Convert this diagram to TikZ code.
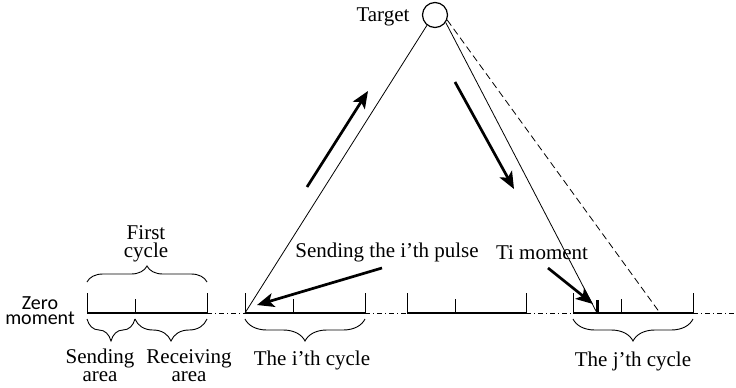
\documentclass[tikz,border=0pt]{standalone}
\usepackage{fontspec}
\setmainfont{Liberation Serif}
\newfontfamily\sanslbl{Carlito}
\usetikzlibrary{arrows.meta,decorations.pathreplacing}
\begin{document}
\begin{tikzpicture}[x=1pt,y=-1pt,
  lbl/.style={font=\fontsize{21}{17.5}\selectfont, inner sep=0pt, align=center},
  slbl/.style={font=\sanslbl\fontsize{20}{15}\selectfont, inner sep=0pt, align=center},
  axisln/.style={line width=1.2pt},
  gapln/.style={line width=0.8pt, dash pattern=on 5pt off 3pt on 1pt off 3pt},
  tickln/.style={line width=1pt},
  ray/.style={line width=0.8pt},
  echoray/.style={line width=0.8pt, dash pattern=on 7pt off 4pt},
  bigarrow/.style={line width=2.7pt, -{Stealth[length=17pt,width=14pt,inset=4pt]}},
  bracetop/.style={line width=0.9pt, decorate, decoration={brace,amplitude=16pt}},
  bracebot/.style={line width=0.9pt, decorate, decoration={brace,mirror,amplitude=22pt}}]
\useasboundingbox (0,0) rectangle (736,388);

% cycle boundaries on the time axis
\coordinate (c1s) at (87,313);  \coordinate (c1m) at (135,313); \coordinate (c1e) at (207,313);
\coordinate (c2s) at (245,313); \coordinate (c2m) at (293,313); \coordinate (c2e) at (365,313);
\coordinate (c3s) at (407,313); \coordinate (c3m) at (455,313); \coordinate (c3e) at (526,313);
\coordinate (c4s) at (573,313); \coordinate (c4m) at (621,313); \coordinate (c4e) at (693,313);
\coordinate (ti) at (597,313);
\coordinate (echo) at (660,313);
\coordinate (axend) at (736,313);

% solid cycles and the dash-dot gaps between them
\draw[axisln] (c1s) -- (c1e);
\draw[axisln] (c2s) -- (c2e);
\draw[axisln] (c3s) -- (c3e);
\draw[axisln] (c4s) -- (c4e);
\draw[gapln] (c1e) -- (c2s);
\draw[gapln] (c2e) -- (c3s);
\draw[gapln] (c3e) -- (c4s);
\draw[gapln] (c4e) -- (axend);

% boundary ticks (tall) and send/receive split ticks (short)
\foreach \p in {c1s,c1e,c2s,c2e,c3s,c3e,c4s,c4e}
  \draw[tickln] (\p) -- ++(0,-20);
\foreach \p in {c1m,c2m,c3m,c4m}
  \draw[tickln] (\p) -- ++(0,-14);
\draw[line width=3pt] (ti) -- ++(0,-13);

% target and the rays
\node[draw, circle, line width=1.2pt, minimum size=25pt, inner sep=0pt] (tg) at (435,15) {};
\node[lbl, anchor=base] (tglbl) at (383,21) {Target};
\draw[ray] (tg.-128) -- (c2s);
\draw[ray] (tg.-35) -- (ti);
\draw[echoray] (tg.-22) -- (echo);

% travel direction arrows
\coordinate (upA) at (307,187); \coordinate (upB) at (368,91);
\coordinate (dnA) at (455,82);  \coordinate (dnB) at (514,189);
\draw[bigarrow] (upA) -- (upB);
\draw[bigarrow] (dnA) -- (dnB);

% labelled pointers
\node[lbl, anchor=base] (pulse) at (387,257) {Sending the i’th pulse};
\node[lbl, anchor=base] (timom) at (542,259) {Ti moment};
\coordinate (pA) at (382,268); \coordinate (pB) at (257,305);
\coordinate (tA) at (548,268); \coordinate (tB) at (593,304);
\draw[bigarrow] (pA) -- (pB);
\draw[bigarrow] (tA) -- (tB);

% braces and their labels (multi-line labels are placed by their last baseline)
\draw[bracetop] (87,282) -- (207,282);
\node[lbl, anchor=base] (first) at (146,257) {First\\cycle};

\draw[bracebot] (87,319) -- (135,319);
\draw[bracebot] (135,319) -- (207,319);
\draw[bracebot] (245,319) -- (365,319);
\draw[bracebot] (573,319) -- (693,319);

\node[lbl, anchor=base] (snd) at (100,381) {Sending\\area};
\node[lbl, anchor=base] (rcv) at (189,381) {Receiving\\area};
\node[lbl, anchor=base] (icyc) at (312,365) {The i’th cycle};
\node[lbl, anchor=base] (jcyc) at (633,366) {The j’th cycle};

% origin label
\node[slbl, anchor=base] (zero) at (40,324) {Zero\\moment};
\end{tikzpicture}
\end{document}
